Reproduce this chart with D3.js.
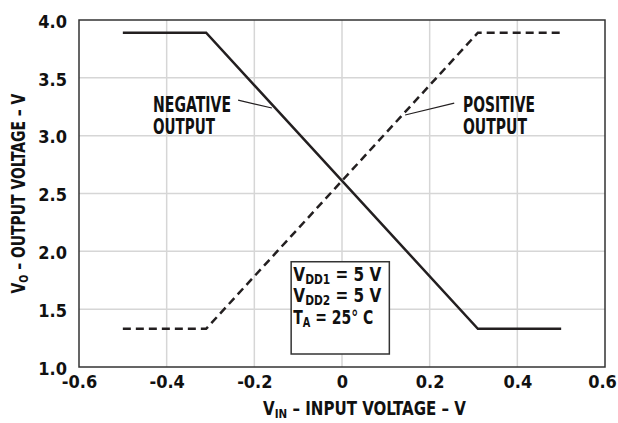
<!DOCTYPE html>
<html>
<head>
<meta charset="utf-8">
<script src="https://cdn.jsdelivr.net/npm/d3@7"></script>
<style>
  body { margin: 0; background: #fff; }
  text { font-family: "DejaVu Sans Condensed", "DejaVu Sans", sans-serif; font-stretch: condensed; font-weight: bold; fill: #111; }
</style>
</head>
<body>
<div id="chart"></div>
<script>
// data
var xTicks = [-0.6, -0.4, -0.2, 0, 0.2, 0.4, 0.6];
var yTicks = [1.0, 1.5, 2.0, 2.5, 3.0, 3.5, 4.0];
var vin = [-0.5, -0.31, 0.31, 0.5];
var negOut = [3.89, 3.89, 1.33, 1.33];
var posOut = [1.33, 1.33, 3.89, 3.89];

var margin = { top: 20, right: 13, bottom: 56, left: 79 },
    width = 618 - margin.left - margin.right,
    height = 423 - margin.top - margin.bottom;

var svg = d3.select("#chart").append("svg")
    .attr("width", 618)
    .attr("height", 423)
    .append("g")
    .attr("transform", "translate(" + margin.left + "," + margin.top + ")");

var x = d3.scaleLinear().domain([-0.6, 0.6]).range([0, width]);
var y = d3.scaleLinear().domain([1.0, 4.0]).range([height, 0]);

// grid
svg.append("g").selectAll("line")
    .data(xTicks.slice(1, -1))
    .enter().append("line")
    .attr("x1", d => x(d)).attr("x2", d => x(d))
    .attr("y1", 0).attr("y2", height)
    .style("stroke", "#d6d6d6").style("stroke-width", 1.5);
svg.append("g").selectAll("line")
    .data(yTicks.slice(1, -1))
    .enter().append("line")
    .attr("x1", 0).attr("x2", width)
    .attr("y1", d => y(d)).attr("y2", d => y(d))
    .style("stroke", "#d6d6d6").style("stroke-width", 1.5);

// frame
svg.append("rect")
    .attr("width", width).attr("height", height)
    .style("fill", "none").style("stroke", "#333").style("stroke-width", 1.5);

// axes (labels only)
var fmt = d => d === 0 ? "0" : d3.format(".1f")(d).replace("\u2212", "-");
var xAxis = d3.axisBottom(x).tickValues(xTicks).tickSize(0).tickPadding(8).tickFormat(fmt);
var yAxis = d3.axisLeft(y).tickValues(yTicks).tickSize(0).tickPadding(12).tickFormat(fmt);
var gx = svg.append("g").attr("transform", "translate(0," + height + ")").call(xAxis);
var gy = svg.append("g").call(yAxis);
[gx, gy].forEach(function (g) {
    g.select(".domain").remove();
    g.selectAll("text").style("font-size", "18px").style("font-family", null).attr("fill", "#111");
});
gy.selectAll("text").attr("dy", "0.4em");
gx.selectAll("text").filter(d => d === 0.6).attr("dx", -3);

// curves
var line = d3.line().x(d => x(d[0])).y(d => y(d[1]));
svg.append("path")
    .datum(vin.map((v, i) => [v, negOut[i]]))
    .attr("d", line)
    .style("fill", "none").style("stroke", "#231f20").style("stroke-width", 2.5);
svg.append("path")
    .datum(vin.map((v, i) => [v, posOut[i]]))
    .attr("d", line)
    .style("fill", "none").style("stroke", "#231f20").style("stroke-width", 2.5)
    .style("stroke-dasharray", "8,5");

// text placed at (px, py), squeezed sideways to width w like the condensed face
function squeezed(px, py, size, w, rot) {
    var t = svg.append("text").style("font-size", size + "px");
    t.fit = function () {
        var k = w / t.node().getComputedTextLength();
        t.attr("transform", "translate(" + px + "," + py + ")" + (rot ? " rotate(" + rot + ")" : "") + " scale(" + k + ",1)");
        return t;
    };
    return t;
}
function withSub(t, main, sub, rest, subSize) {
    t.append("tspan").text(main);
    t.append("tspan").attr("dy", 3).style("font-size", subSize + "px").text(sub);
    t.append("tspan").attr("dy", -3).text(rest);
    return t.fit();
}

// annotations
function label(lines, widths, tx, ty, p1, p2) {
    lines.forEach(function (s, i) {
        squeezed(x(tx), y(ty) + i * 22, 21, widths[i]).text(s).fit();
    });
    svg.append("line")
        .attr("x1", x(p1[0])).attr("y1", y(p1[1]))
        .attr("x2", x(p2[0])).attr("y2", y(p2[1]))
        .style("stroke", "#231f20").style("stroke-width", 1.2);
}
label(["NEGATIVE", "OUTPUT"], [78, 62], -0.431, 3.205, [-0.237, 3.308], [-0.160, 3.239]);
label(["POSITIVE", "OUTPUT"], [72, 64], 0.276, 3.205, [0.256, 3.282], [0.144, 3.179]);

// conditions box
svg.append("rect")
    .attr("x", x(-0.116)).attr("y", y(1.91))
    .attr("width", x(0.108) - x(-0.116))
    .attr("height", y(1.0) - y(1.91) - 13)
    .style("fill", "#fff").style("stroke", "#333").style("stroke-width", 1.5);
var conds = [["V", "DD1", " = 5 V"], ["V", "DD2", " = 5 V"], ["T", "A", " = 25° C"]];
var condWidths = [88, 88, 80];
conds.forEach(function (c, i) {
    withSub(squeezed(x(-0.111), y(1.91) + 19 + i * 21.5, 20, condWidths[i]), c[0], c[1], c[2], 14);
});

// axis titles
withSub(squeezed(x(-0.18), height + 48, 19, 203), "V", "IN", " – INPUT VOLTAGE – V", 13);
withSub(squeezed(-54, height / 2 + 100, 19, 200, -90), "V", "O", " – OUTPUT VOLTAGE – V", 13);
</script>
</body>
</html>
